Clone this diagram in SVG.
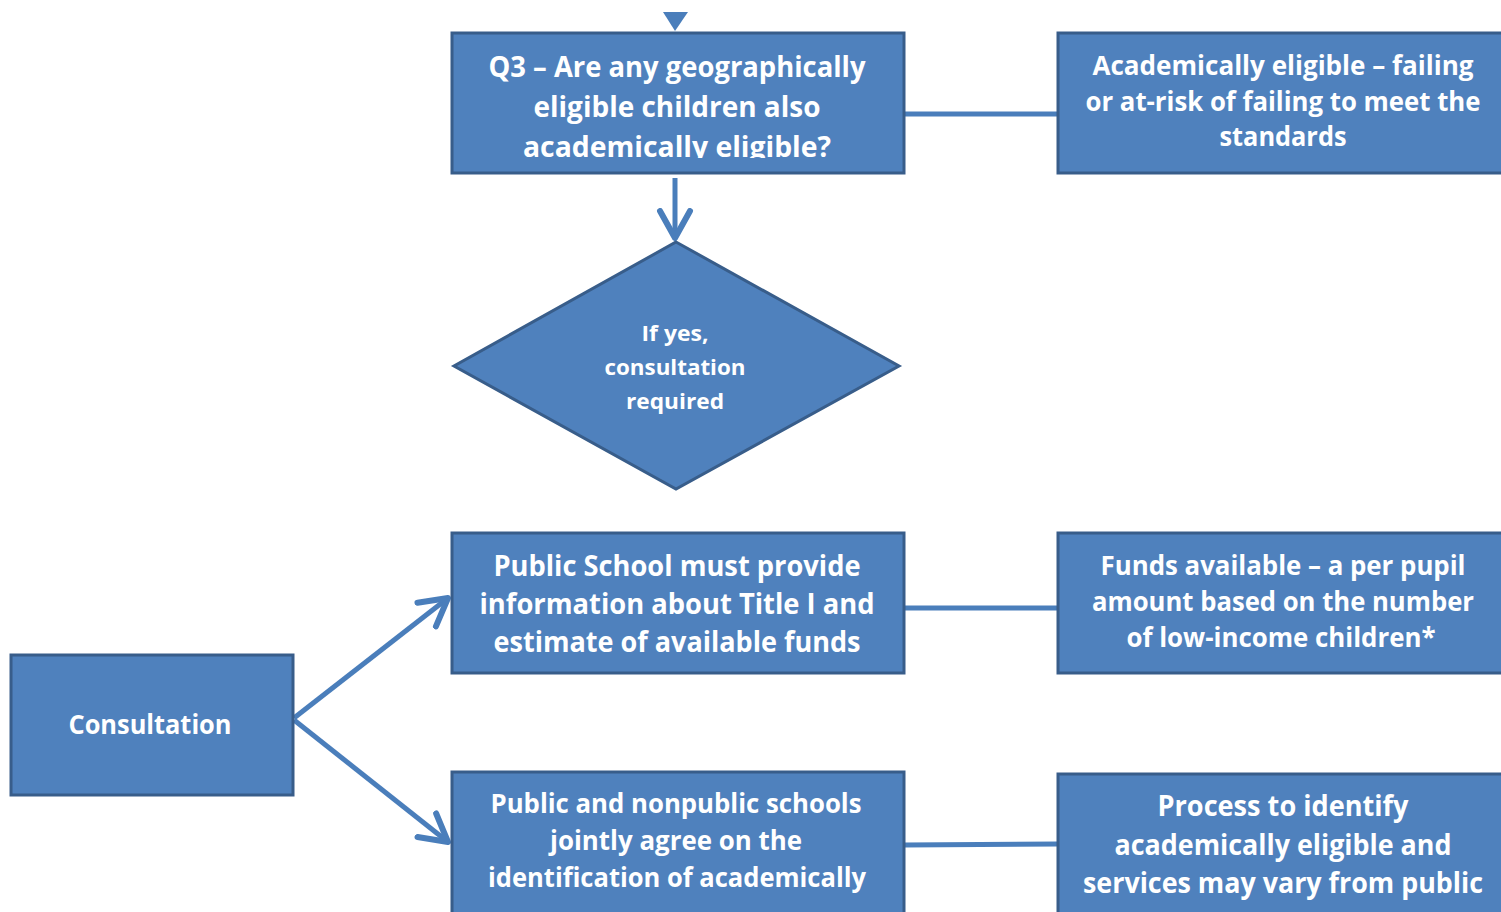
<svg xmlns="http://www.w3.org/2000/svg" width="1501" height="912" viewBox="0 0 1501 912">
<style>
.box{fill:#4f81bd;stroke:#385d8a;stroke-width:3}
.t{fill:#fff;font-family:"Open Sans","Liberation Sans",sans-serif;font-weight:700;text-anchor:middle}
.c{stroke:#4a7ebb;stroke-width:5;fill:none}
</style>
<defs>
<marker id="ah" markerUnits="userSpaceOnUse" markerWidth="40" markerHeight="40" viewBox="-30 -20 40 40" refX="0" refY="0" orient="auto">
<path d="M-27,-15 L0,0 L-27,15" fill="none" stroke="#4a7ebb" stroke-width="6" stroke-linecap="round" stroke-linejoin="round"/>
</marker>
<clipPath id="cq3"><rect x="451" y="32" width="454" height="126"/></clipPath>
</defs>
<g id="connectors">
<polygon points="663,12 688,12 675,31" fill="#4a7ebb"/>
<line class="c" x1="905" y1="114" x2="1057" y2="114"/>
<line class="c" x1="675" y1="178" x2="675" y2="238" marker-end="url(#ah)"/>
<line class="c" x1="905" y1="608" x2="1057" y2="608"/>
<line class="c" x1="905" y1="845" x2="1057" y2="844"/>
<line class="c" x1="294" y1="718" x2="448" y2="598" marker-end="url(#ah)"/>
<line class="c" x1="294" y1="720" x2="448" y2="842" marker-end="url(#ah)"/>
</g>
<g id="q3">
<rect class="box" x="452" y="33" width="452" height="140"/>
<g clip-path="url(#cq3)">
<text class="t" font-size="28" x="677" y="77" textLength="377" lengthAdjust="spacingAndGlyphs">Q3 – Are any geographically</text>
<text class="t" font-size="28" x="677" y="117" textLength="287" lengthAdjust="spacingAndGlyphs">eligible children also</text>
<text class="t" font-size="28" x="677" y="157" textLength="308" lengthAdjust="spacingAndGlyphs">academically eligible?</text>
</g>
</g>
<g id="academic">
<rect class="box" x="1058" y="33" width="460" height="140"/>
<text class="t" font-size="26" x="1283" y="75" textLength="381" lengthAdjust="spacingAndGlyphs">Academically eligible – failing</text>
<text class="t" font-size="26" x="1283" y="111" textLength="395" lengthAdjust="spacingAndGlyphs">or at-risk of failing to meet the</text>
<text class="t" font-size="26" x="1283" y="146" textLength="127" lengthAdjust="spacingAndGlyphs">standards</text>
</g>
<g id="decision">
<polygon class="box" points="676,242 899,366 676,489 454,366"/>
<text class="t" font-size="22" x="675" y="341" textLength="67" lengthAdjust="spacingAndGlyphs">If yes,</text>
<text class="t" font-size="22" x="675" y="375" textLength="141" lengthAdjust="spacingAndGlyphs">consultation</text>
<text class="t" font-size="22" x="675" y="409" textLength="98" lengthAdjust="spacingAndGlyphs">required</text>
</g>
<g id="publicschool">
<rect class="box" x="452" y="533" width="452" height="140"/>
<text class="t" font-size="28" x="677" y="576" textLength="367" lengthAdjust="spacingAndGlyphs">Public School must provide</text>
<text class="t" font-size="28" x="677" y="614" textLength="395" lengthAdjust="spacingAndGlyphs">information about Title I and</text>
<text class="t" font-size="28" x="677" y="652" textLength="367" lengthAdjust="spacingAndGlyphs">estimate of available funds</text>
</g>
<g id="funds">
<rect class="box" x="1058" y="533" width="460" height="140"/>
<text class="t" font-size="26" x="1283" y="575" textLength="365" lengthAdjust="spacingAndGlyphs">Funds available – a per pupil</text>
<text class="t" font-size="26" x="1283" y="611" textLength="382" lengthAdjust="spacingAndGlyphs">amount based on the number</text>
<text class="t" font-size="26" x="1281" y="647" textLength="309" lengthAdjust="spacingAndGlyphs">of low-income children*</text>
</g>
<g id="consultation">
<rect class="box" x="11" y="655" width="282" height="140"/>
<text class="t" font-size="26" x="150" y="734" textLength="163" lengthAdjust="spacingAndGlyphs">Consultation</text>
</g>
<g id="jointly">
<rect class="box" x="452" y="772" width="452" height="150"/>
<text class="t" font-size="26" x="676" y="813" textLength="371" lengthAdjust="spacingAndGlyphs">Public and nonpublic schools</text>
<text class="t" font-size="26" x="676" y="850" textLength="252" lengthAdjust="spacingAndGlyphs">jointly agree on the</text>
<text class="t" font-size="26" x="677" y="887" textLength="378" lengthAdjust="spacingAndGlyphs">identification of academically</text>
</g>
<g id="process">
<rect class="box" x="1058" y="774" width="460" height="150"/>
<text class="t" font-size="28" x="1283" y="816" textLength="251" lengthAdjust="spacingAndGlyphs">Process to identify</text>
<text class="t" font-size="28" x="1283" y="855" textLength="337" lengthAdjust="spacingAndGlyphs">academically eligible and</text>
<text class="t" font-size="28" x="1283" y="893" textLength="400" lengthAdjust="spacingAndGlyphs">services may vary from public</text>
</g>
</svg>
